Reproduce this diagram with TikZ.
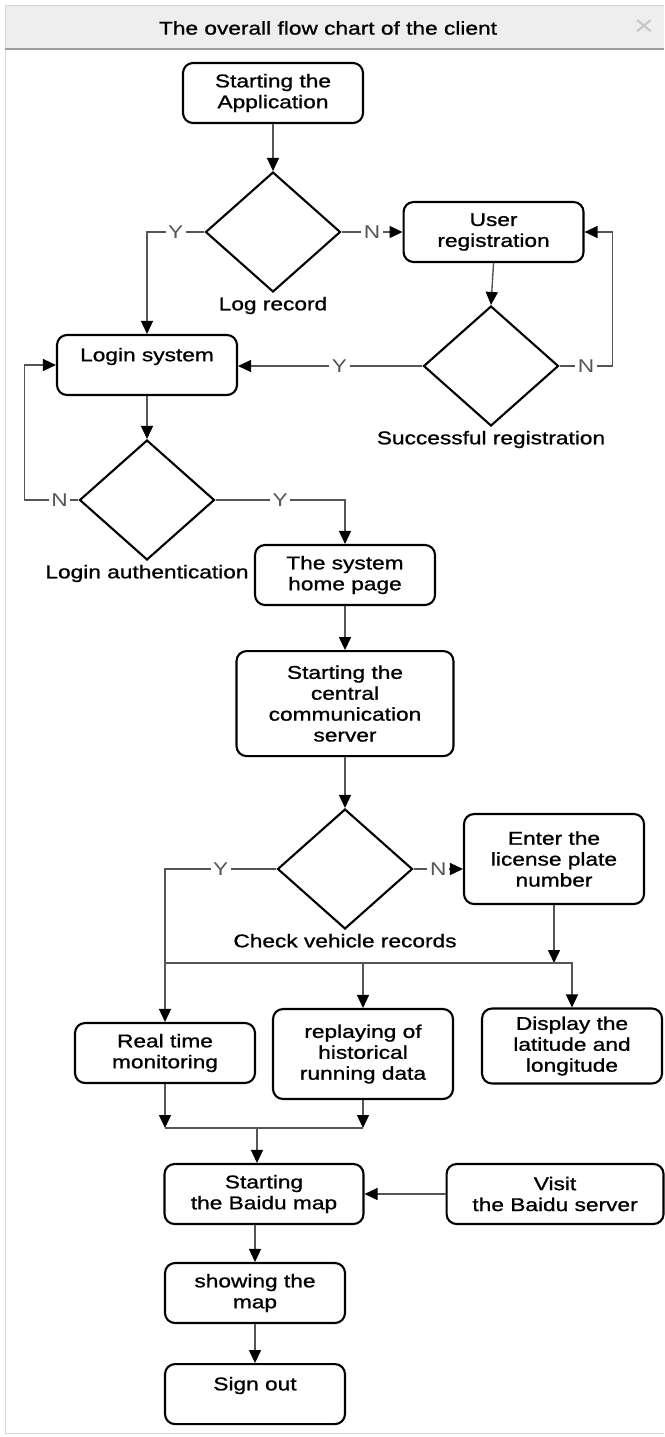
\documentclass[tikz,border=0pt]{standalone}
\usepackage{fontspec}
\setmainfont[FakeStretch=1.23,FakeBold=1]{Liberation Sans}
\newfontfamily\ynfont[FakeStretch=1.23]{Liberation Sans}
\usetikzlibrary{arrows.meta,positioning,shapes.geometric}
\usepackage{xcolor}

\definecolor{linegray}{HTML}{555555}
\definecolor{bargray}{HTML}{EEEEEE}
\definecolor{framegray}{HTML}{D6D6D6}

\begin{document}
\begin{tikzpicture}[
    x=0.02cm, y=-0.02cm,
    font=\fontsize{10.5}{11.9}\selectfont,
    box/.style={draw, line width=1.2pt, rounded corners=0.2cm, fill=white,
                minimum width=3.6cm, minimum height=1.2cm,
                align=center, inner sep=1pt},
    decision/.style={draw, diamond, line width=1.2pt, inner sep=0pt,
                     minimum width=2.7cm, minimum height=2.4cm},
    dlabel/.style={inner sep=2pt},
    yn/.style={fill=white, text=linegray, inner sep=1.5pt,
               font=\ynfont\fontsize{10.5}{11.9}\selectfont},
    flow/.style={draw=linegray, line width=0.8pt,
                 -{Triangle[color=black, length=0.26cm, width=0.24cm]}},
    link/.style={draw=linegray, line width=0.8pt}
  ]
  \useasboundingbox (0,0) rectangle (664,1437);

  % window frame
  \fill[bargray] (5,5) rectangle (664,48);
  \draw[framegray] (664,5) -- (5,5) -- (5,1433) -- (664,1433);
  \draw[gray!75, line width=1.1pt] (5,49) -- (664,49);
  \node (title) at (328,28) {The overall flow chart of the client};
  \node (closebtn) [text=gray!45, font=\ynfont\fontsize{16}{16}\selectfont] at (644,28) {×};

  % registration and login
  \node (start)   [box] at (273,93)             {Starting the\\Application};
  \node (logrec)  [decision] at (273,232)       {};
  \node (userreg) [box, right=1.22cm of logrec] {User\\registration};
  \node (succ)    [decision] at (491,366)       {};
  \node (login)   [box] at (147,365)            {Login system\\\mbox{}};
  \node (auth)    [decision] at (147,500)       {};
  \node (home)    [box] at (345,575)            {The system\\home page};
  \node (central) [box, below=0.88cm of home, minimum width=4.34cm, minimum height=2.1cm]
                  {Starting the\\central\\communication\\server};

  \node (logreclbl) [dlabel, below=0pt of logrec] {Log record};
  \node (succlbl)   [dlabel, below=0pt of succ]   {Successful registration};
  \node (authlbl)   [dlabel, below=0pt of auth]   {Login authentication};

  % vehicle and map
  \node (check)    [decision] at (345,869) {};
  \node (checklbl) [dlabel, below=0pt of check] {Check vehicle records};
  \node (enter)    [box, minimum height=1.8cm] at (554,859)  {Enter the\\license plate\\number};
  \node (realtime) [box] at (165,1053)                       {Real time\\monitoring};
  \node (replay)   [box, minimum height=1.8cm] at (363,1054) {replaying of\\historical\\running data};
  \node (display)  [box, minimum height=1.5cm] at (572,1046) {Display the\\latitude and\\longitude};
  \node (map)      [box, minimum width=3.98cm] at (264,1194) {Starting\\the Baidu map};
  \node (visit)    [box, right=1.62cm of map, minimum width=4.34cm] {Visit\\the Baidu server};
  \node (showing)  [box] at (255,1293)                       {showing the\\map};
  \node (signout)  [box, below=0.78cm of showing]            {Sign out\\\mbox{}};

  \draw[flow] (start.south) -- (logrec.north);
  \draw[flow] (logrec.west) -- node[yn]{Y} (logrec.west -| login.north) -- (login.north);
  \draw[flow] (logrec.east) -- node[yn]{N} (userreg.west);
  \draw[flow] (userreg.south) -- (succ.north);
  \draw[flow] (succ.east) -- node[yn]{N} ++(53,0) |- (userreg.east);
  \draw[flow] (succ.west) -- node[yn, pos=0.45]{Y} (succ.west -| login.east);
  \draw[flow] (login.south) -- (auth.north);
  \draw[flow] (auth.west) -- node[yn, pos=0.35]{N} ++(-54,0) |- (login.west);
  \draw[flow] (auth.east) -- node[yn]{Y} (auth.east -| home.north) -- (home.north);
  \draw[flow] (home.south) -- (central.north);
  \draw[flow] (central.south) -- (check.north);
  \draw[flow] (check.east) -- node[yn]{N} (check.east -| enter.west);
  \draw[flow] (check.west) -- node[yn]{Y} (check.west -| realtime.north) -- (realtime.north);

  \coordinate (bus) at (165,963);
  \draw[flow] (enter.south) -- (enter.south |- bus);
  \draw[flow] (bus) -| (display.north);
  \draw[flow] (bus -| replay.north) -- (replay.north);

  \coordinate (merge) at (257,1128);
  \draw[flow] (realtime.south) -- (realtime.south |- merge);
  \draw[flow] (replay.south) -- (replay.south |- merge);
  \draw[link] (realtime.south |- merge) -- (replay.south |- merge);
  \draw[flow] (merge) -- (merge |- map.north);
  \draw[flow] (visit.west) -- (map.east);
  \draw[flow] (showing.north |- map.south) -- (showing.north);
  \draw[flow] (showing.south) -- (signout.north);
\end{tikzpicture}
\end{document}
